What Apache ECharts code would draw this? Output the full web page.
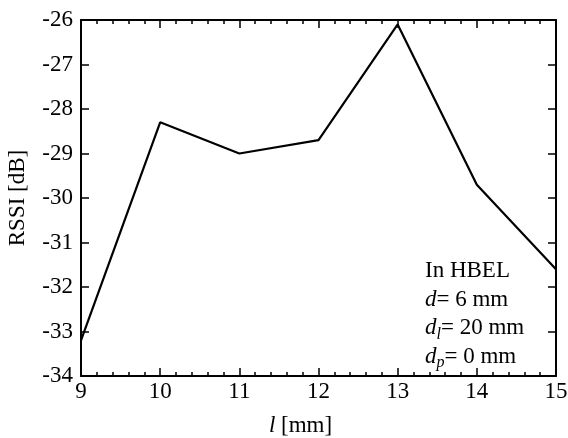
<!DOCTYPE html>
<html>
<head>
<meta charset="utf-8">
<script src="https://cdn.jsdelivr.net/npm/echarts@6/dist/echarts.min.js"></script>
<style>
  html, body { margin: 0; padding: 0; background: #fff; }
  #chart { width: 568px; height: 438px; }
</style>
</head>
<body>
<div id="chart"></div>
<script>
// data
var lengths = [9, 10, 11, 12, 13, 14, 15]
var rssi = [-33.2, -28.3, -29.0, -28.7, -26.1, -29.7, -31.6]

var font = 'Liberation Serif'
var points = lengths.map(function (l, i) { return [l, rssi[i]] })

var chart = echarts.init(document.getElementById('chart'))

var tickCommon = {
  axisLine: { show: true, onZero: false, lineStyle: { color: '#000', width: 2 } },
  axisTick: { show: true, inside: true, length: 8, lineStyle: { color: '#000', width: 1.5 } },
  splitLine: { show: false }
}
var minor = { show: true, splitNumber: 5, length: 4, lineStyle: { color: '#000', width: 1.5 } }

chart.setOption({
  animation: false,
  grid: { left: 81, right: 12, top: 20, bottom: 62, outerBoundsMode: 'none' },
  xAxis: [
    Object.assign({
      type: 'value', min: 9, max: 15, interval: 1, position: 'bottom',
      minorTick: minor,
      axisLabel: { color: '#000', fontFamily: font, fontSize: 23, margin: 4 },
      name: '{i|l} [mm]', nameLocation: 'middle', nameGap: 38,
      nameTextStyle: {
        color: '#000', fontFamily: font, fontSize: 23, padding: [0, 36, 0, 0],
        rich: { i: { fontStyle: 'italic', fontFamily: font, fontSize: 23, color: '#000' } }
      }
    }, tickCommon),
    Object.assign({
      type: 'value', min: 9, max: 15, interval: 1, position: 'top',
      minorTick: minor,
      axisLabel: { show: false }
    }, tickCommon)
  ],
  yAxis: [
    Object.assign({
      type: 'value', min: -34, max: -26, interval: 1, position: 'left',
      axisLabel: { color: '#000', fontFamily: font, fontSize: 23, margin: 8 },
      name: 'RSSI [dB]', nameLocation: 'middle', nameGap: 52,
      nameTextStyle: { color: '#000', fontFamily: font, fontSize: 23 }
    }, tickCommon),
    Object.assign({
      type: 'value', min: -34, max: -26, interval: 1, position: 'right',
      axisLabel: { show: false }
    }, tickCommon)
  ],
  series: [{
    type: 'line',
    data: points,
    symbol: 'none',
    lineStyle: { color: '#000', width: 2.2 }
  }],
  graphic: [{
    type: 'text',
    left: 425,
    top: 257,
    style: {
      text: 'In HBEL\n{i|d}= 6 mm\n{i|d}{s|l}= 20 mm\n{i|d}{s|p}= 0 mm',
      fontFamily: font,
      fontSize: 23,
      lineHeight: 28.5,
      fill: '#000',
      rich: {
        i: { fontStyle: 'italic', fontFamily: font, fontSize: 23, lineHeight: 28.5 },
        s: { fontStyle: 'italic', fontFamily: font, fontSize: 16, lineHeight: 28.5, verticalAlign: 'bottom', padding: [10, 0, 0, 0] }
      }
    }
  }]
})
</script>
</body>
</html>
